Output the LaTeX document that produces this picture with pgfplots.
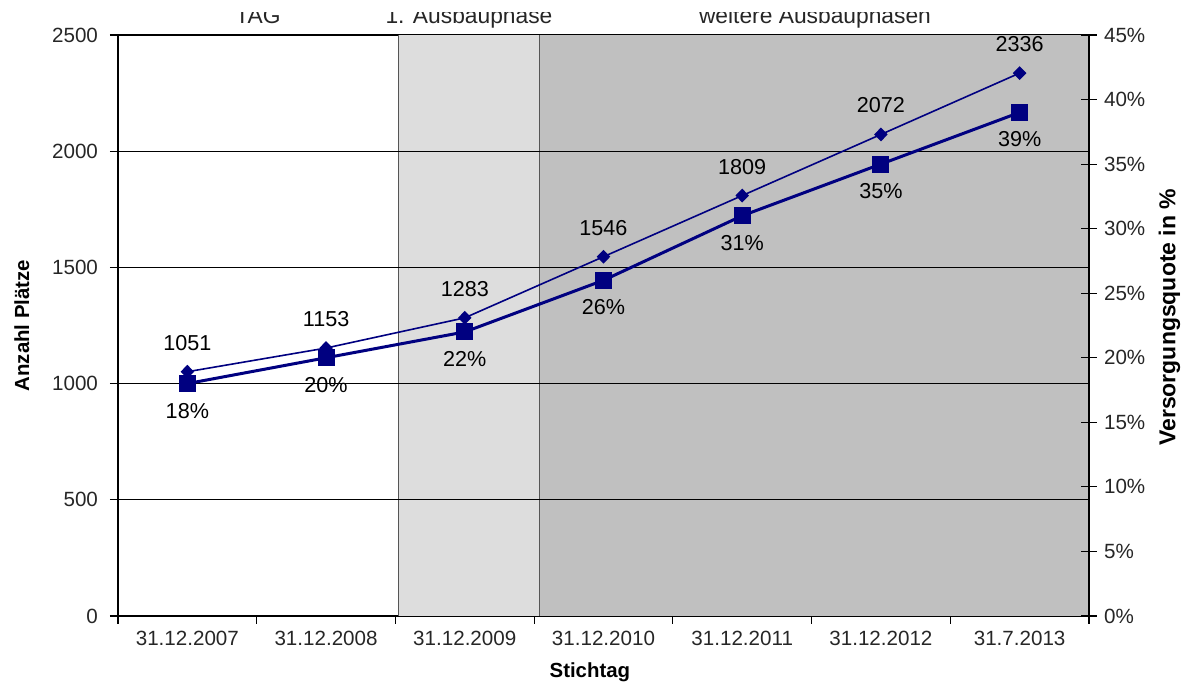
\documentclass[border=0pt]{standalone}
\usepackage{fontspec}
\setmainfont{Liberation Sans}
\usepackage{pgfplots}
\pgfplotsset{compat=1.18}
\definecolor{navy}{HTML}{000080}
\definecolor{phaseA}{HTML}{DDDDDD}
\definecolor{phaseB}{HTML}{C0C0C0}
\definecolor{edge}{HTML}{555555}

\pgfplotsset{
  frame/.style={
    at={(59pt,34pt)}, anchor=south west,
    scale only axis, width=485.5pt, height=290.5pt,
    xmin=-0.5, xmax=6.5,
    clip=false,
    /pgf/number format/assume math mode=true,
    /pgf/number format/set thousands separator={},
    tick label style={font=\fontsize{10.3}{12}\selectfont, black!85},
    label style={font=\bfseries\fontsize{10.2}{12}\selectfont},
    tick style={black, line width=0.6pt},
    axis line style={black, line width=0.8pt},
  },
}

\begin{document}
\begin{tikzpicture}
\useasboundingbox (0,0) rectangle (595pt,342pt);

\begin{axis}[
  frame,
  ymin=0, ymax=2500,
  ytick={0,500,...,2500},
  xtick={0,...,6},
  xticklabels={31.12.2007,31.12.2008,31.12.2009,31.12.2010,31.12.2011,31.12.2012,31.7.2013},
  xtick pos=bottom, ytick pos=left,
  major x tick style={draw=none},
  minor xtick={-0.5,0.5,...,6.5},
  tick align=outside,
  major tick length=4pt, minor tick length=4pt,
  yticklabel style={xshift=-2.5pt},
  xlabel={Stichtag},
  ylabel={Anzahl Plätze},
  xlabel style={at={(axis description cs:0.486,-0.097)}, anchor=center},
  ylabel style={at={(axis description cs:-0.099,0.5)}, anchor=center},
]
% phases
\addplot[draw=none, fill=phaseA] coordinates {(1.52,2500)(2.54,2500)} \closedcycle;
\addplot[draw=none, fill=phaseB] coordinates {(2.54,2500)(6.5,2500)} \closedcycle;
\addplot[edge, line width=0.6pt] coordinates {(1.52,0)(1.52,2500)};
\addplot[edge, line width=0.6pt] coordinates {(2.54,0)(2.54,2500)};
% grid
\addplot[black, line width=0.6pt] coordinates {(-0.5,500)(6.5,500)};
\addplot[black, line width=0.6pt] coordinates {(-0.5,1000)(6.5,1000)};
\addplot[black, line width=0.6pt] coordinates {(-0.5,1500)(6.5,1500)};
\addplot[black, line width=0.6pt] coordinates {(-0.5,2000)(6.5,2000)};
% Anzahl Plaetze
\addplot[navy, line width=0.8pt, mark=diamond*, mark size=2.9pt,
  mark options={xscale=1.3},
  point meta=explicit symbolic, nodes near coords,
  every node near coord/.append style={anchor=center, yshift=14.5pt,
    font=\fontsize{10.8}{12}\selectfont, black}]
  coordinates {
    (0,1051)[1051] (1,1153)[1153] (2,1283)[1283] (3,1546)[1546]
    (4,1809)[1809] (5,2072)[2072] (6,2336)[2336]
  };
\end{axis}

\begin{axis}[
  frame,
  ymin=0, ymax=45,
  axis x line=none, axis y line*=right,
  ytick={0,5,...,45},
  yticklabel={\pgfmathprintnumber{\tick}\%},
  tick align=center, major tick length=8pt,
  ylabel={Versorgungsquote in \%},
  ylabel style={at={(axis description cs:1.083,0.281)}, anchor=west,
    font=\bfseries\fontsize{11.5}{13}\selectfont},
]
\addplot[navy, line width=1.5pt, mark=square*, mark size=3.5pt,
  point meta=explicit symbolic, nodes near coords,
  every node near coord/.append style={anchor=center, yshift=-13.5pt,
    font=\fontsize{10.8}{12}\selectfont, black}]
  coordinates {
    (0,18)[18\%] (1,20)[20\%] (2,22)[22\%] (3,26)[26\%]
    (4,31)[31\%] (5,35)[35\%] (6,39)[39\%]
  };
\end{axis}

\begin{scope}
\clip (0,0) rectangle (595pt,335.5pt);
\node[anchor=base, font=\fontsize{11.4}{13}\selectfont, black!85] at (129pt,330pt) {TAG};
\node[anchor=base, font=\fontsize{11.4}{13}\selectfont, black!85] at (234.5pt,330pt) {1. Ausbauphase};
\node[anchor=base, font=\fontsize{11.4}{13}\selectfont, black!85] at (407.5pt,330pt) {weitere Ausbauphasen};
\end{scope}
\end{tikzpicture}
\end{document}
